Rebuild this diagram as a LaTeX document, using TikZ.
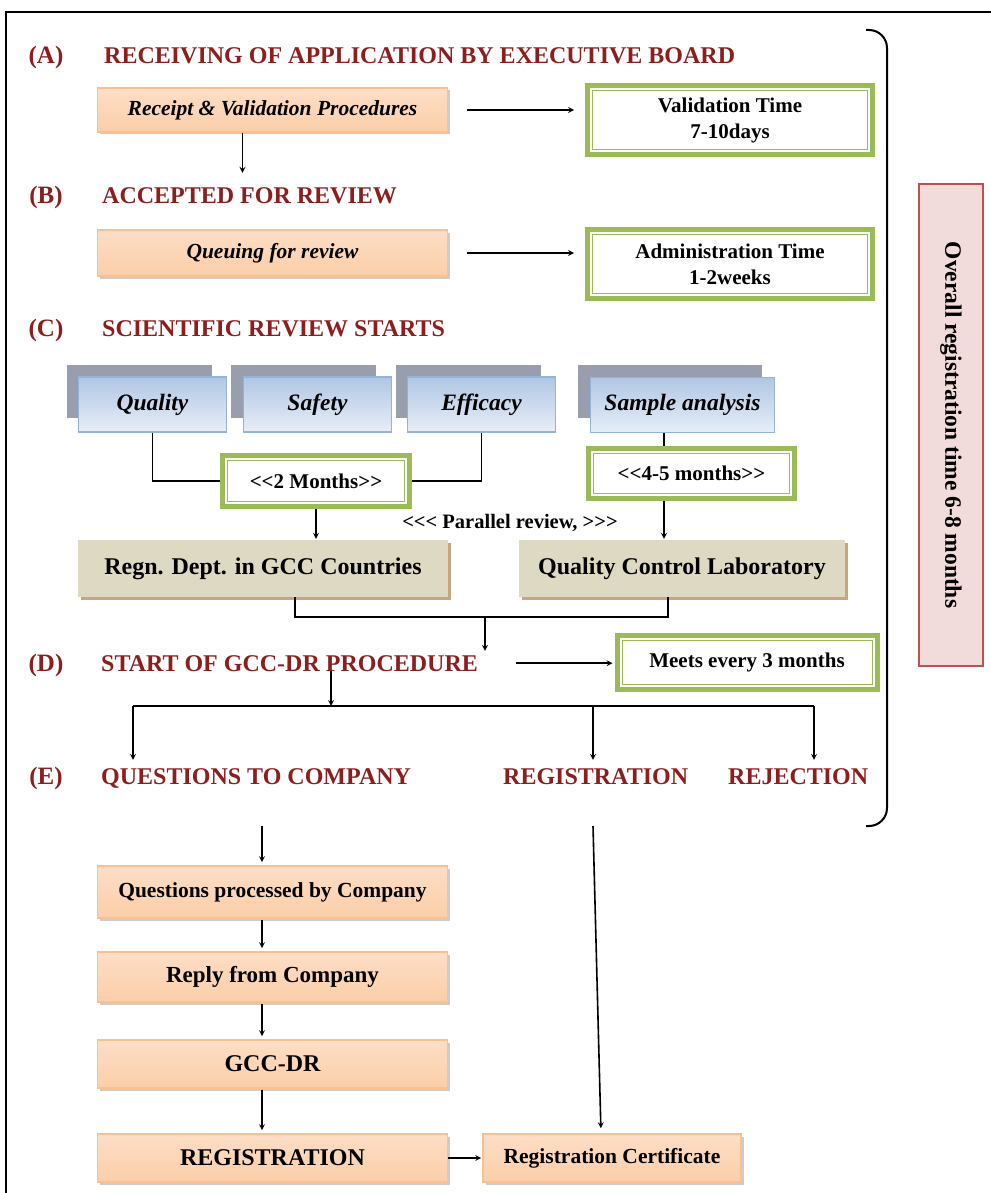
\documentclass[tikz,border=0pt]{standalone}
\usepackage{fontspec}
\setmainfont{Liberation Serif}
\usetikzlibrary{shadows,arrows.meta}

\definecolor{hdred}{RGB}{140,30,30}
\definecolor{lime}{RGB}{155,187,89}
\definecolor{peachline}{RGB}{250,192,143}
\definecolor{peachtop}{RGB}{253,222,198}
\definecolor{peachbot}{RGB}{251,206,168}
\definecolor{blueline}{RGB}{149,179,215}
\definecolor{bluetop}{RGB}{176,198,228}
\definecolor{bluebot}{RGB}{232,238,247}
\definecolor{grayback}{RGB}{152,158,174}
\definecolor{tanfill}{RGB}{221,217,195}
\definecolor{tanshadow}{RGB}{200,165,126}
\definecolor{pinkfill}{RGB}{242,220,219}
\definecolor{redline}{RGB}{192,80,77}

\begin{document}
\begin{tikzpicture}[x=1pt,y=-1pt,
	hd/.style = {text=hdred, font=\fontsize{24}{28}\selectfont\bfseries, inner sep=0pt},
	peach/.style = {draw=peachline, line width=1.6pt, top color=peachtop, middle color=white!97!peachtop, bottom color=peachbot,
		minimum width=350pt, font=\fontsize{21.5}{25}\selectfont\bfseries,
		drop shadow={shadow xshift=2.5pt, shadow yshift=-2.5pt, fill=black!40, opacity=.5}},
	greenbox/.style = {draw=lime, line width=5pt, fill=white, align=center, font=\fontsize{21}{26}\selectfont\bfseries,
		path picture={\draw[lime, line width=1pt] ([shift={(5pt,5pt)}]path picture bounding box.south west) rectangle ([shift={(-5pt,-5pt)}]path picture bounding box.north east);}},
	bluebox/.style = {draw=blueline, line width=1.2pt, top color=bluetop, bottom color=bluebot,
		minimum height=55pt, font=\fontsize{23.5}{27}\selectfont\bfseries\itshape},
	backbox/.style = {fill=grayback, minimum height=53pt},
	tanbox/.style = {fill=tanfill, minimum height=57pt, font=\fontsize{24}{28}\selectfont\bfseries,
		drop shadow={shadow xshift=3pt, shadow yshift=-3pt, fill=tanshadow, opacity=1}},
	arr/.style = {-stealth, line width=1.6pt},
	link/.style = {line width=1.2pt}]
	\useasboundingbox (0,0) rectangle (990,1193);
	% frame and bracket
	\draw[line width=2pt] (6,1200) -- (6,12) -- (1000,12);
	\draw[line width=2pt, rounded corners=18pt] (866,30) -- (887,30) -- (887,826) -- (866,826);
	% headings
	\node[hd, anchor=base] (labA) at (46,64) {\fontsize{25}{28}\selectfont(A)};
	\node[hd, anchor=base west] (titA) at (104,64) {RECEIVING OF APPLICATION BY EXECUTIVE BOARD};
	\node[hd, anchor=base] (labB) at (46,204) {\fontsize{25}{28}\selectfont(B)};
	\node[hd, anchor=base west] (titB) at (102,204) {ACCEPTED FOR REVIEW};
	\node[hd, anchor=base] (labC) at (46,336) {\fontsize{25}{28}\selectfont(C)};
	\node[hd, anchor=base west] (titC) at (102,336) {SCIENTIFIC REVIEW STARTS};
	\node[hd, anchor=base] (labD) at (46,671) {\fontsize{25}{28}\selectfont(D)};
	\node[hd, anchor=base west] (titD) at (101,671) {START OF GCC-DR PROCEDURE};
	\node[hd, anchor=base] (labE) at (46,784) {\fontsize{25}{28}\selectfont(E)};
	\node[hd, anchor=base west] (titE) at (101,784) {QUESTIONS TO COMPANY};
	\node[hd, anchor=base west] (titReg) at (503,784) {REGISTRATION};
	\node[hd, anchor=base west] (titRej) at (728,784) {REJECTION};
	% stage A and B
	\node[peach, minimum height=44pt] (recv) at (272.5,110) {\itshape Receipt \& Validation Procedures};
	\node[greenbox, minimum width=285pt, minimum height=69pt] (valid) at (730,120) {Validation Time\\7-10days};
	\node[peach, minimum height=46pt] (queue) at (272.5,253) {\itshape Queuing for review};
	\node[greenbox, minimum width=285pt, minimum height=69pt] (admin) at (730,264) {Administration Time\\1-2weeks};
	% stage C
	\node[backbox, minimum width=145pt] (qualback) at (139.5,391.5) {};
	\node[backbox, minimum width=145pt] (safeback) at (303.5,391.5) {};
	\node[backbox, minimum width=145pt] (effiback) at (468.5,391.5) {};
	\node[backbox, minimum width=184pt] (sampback) at (670,391.5) {};
	\node[bluebox, minimum width=148pt] (qual) at (152.5,404.5) {Quality};
	\node[bluebox, minimum width=148pt] (safe) at (317.5,404.5) {Safety};
	\node[bluebox, minimum width=148pt] (effi) at (481.5,404.5) {Efficacy};
	\node[bluebox, minimum width=184pt] (samp) at (682.5,405) {Sample analysis};
	\node[greenbox, minimum width=187pt, minimum height=51pt] (two) at (316,481) {<{}<2 Months>{}>};
	\node[greenbox, minimum width=206pt, minimum height=50pt] (four) at (691.5,473.5) {<{}<4-5 months>{}>};
	\node[font=\fontsize{20.5}{22}\selectfont\bfseries, inner sep=0pt] (par) at (510,523) {<{}<{}< Parallel review, >{}>{}>};
	\node[tanbox, minimum width=370pt] (regn) at (263,568.5) {Regn. Dept. in GCC Countries};
	\node[tanbox, minimum width=326pt] (qcl) at (682,568.5) {Quality Control Laboratory};
	% stage D
	\node[greenbox, minimum width=260pt, minimum height=54pt] (meets) at (747,662) {Meets every 3 months};
	% company loop
	\node[peach, minimum height=52pt] (qproc) at (272.5,892) {Questions processed by Company};
	\node[peach, minimum height=50pt, font=\fontsize{23}{27}\selectfont\bfseries] (reply) at (272.5,977) {Reply from Company};
	\node[peach, minimum height=48pt, font=\fontsize{24}{28}\selectfont\bfseries] (gccdr) at (272.5,1064) {GCC-DR};
	\node[peach, minimum height=48pt, font=\fontsize{24}{28}\selectfont\bfseries] (regbox) at (272.5,1158) {REGISTRATION};
	\node[peach, minimum width=258pt, minimum height=48pt] (cert) at (612,1158) {Registration Certificate};
	% overall time
	\node[draw=redline, line width=2.5pt, fill=pinkfill, rotate=-90, minimum width=482pt, minimum height=64pt,
		font=\fontsize{23.5}{27}\selectfont\bfseries] (overall) at (951,425) {Overall registration time 6-8 months};
	% connectors
	\coordinate (dm) at (485,617);
	\coordinate (fork) at (331,706);
	\coordinate (fl) at (133,706);
	\coordinate (fr) at (814,706);
	\coordinate (qtop) at (262,826);
	\coordinate (rtop) at (593,826);
	\draw[arr, shorten <=19pt, shorten >=11pt] (recv.east) -- (recv.east -| valid.west);
	\draw[arr] ([xshift=-30pt]recv.south) -- ++(0,40);
	\draw[arr, shorten <=19pt, shorten >=11pt] (queue.east) -- (queue.east -| admin.west);
	\draw[link] (qual.south) |- (two.west);
	\draw[link] (effi.south) |- (two.east);
	\draw[arr, shorten >=1pt] (two.south) -- (two.south |- regn.north);
	\draw[link] ([xshift=-18.5pt]samp.south) -- ([xshift=-18.5pt]samp.south |- four.north);
	\draw[arr, shorten >=1pt] ([xshift=-18.5pt]samp.south |- four.south) -- ([xshift=-18.5pt]samp.south |- qcl.north);
	\draw[link] ([xshift=32pt]regn.south) |- (dm) -| ([xshift=-14pt]qcl.south);
	\draw[arr, shorten >=4pt] (dm) -- (dm |- titD.north);
	\draw[arr, shorten <=38pt, shorten >=2pt] (titD.east) -- (titD.east -| meets.west);
	\draw[arr] (titD.south -| fork) -- (fork);
	\draw[link] (fl) -- (fr);
	\draw[arr, shorten >=8pt] (fl) -- (fl |- titE.north);
	\draw[arr, shorten >=8pt] (fork -| rtop) -- (rtop |- titReg.north);
	\draw[arr, shorten >=8pt] (fr) -- (fr |- titRej.north);
	\draw[arr, shorten >=3pt] (qtop) -- (qtop |- qproc.north);
	\draw[arr, shorten <=1pt, shorten >=3pt] (qtop |- qproc.south) -- (qtop |- reply.north);
	\draw[arr, shorten <=1pt, shorten >=3pt] (qtop |- reply.south) -- (qtop |- gccdr.north);
	\draw[arr, shorten <=1pt, shorten >=3pt] (qtop |- gccdr.south) -- (qtop |- regbox.north);
	\draw[arr, shorten >=1pt] (regbox.east) -- (cert.west);
	\draw[arr, shorten >=5pt] (rtop) -- ([xshift=-11pt]cert.north);
\end{tikzpicture}
\end{document}
